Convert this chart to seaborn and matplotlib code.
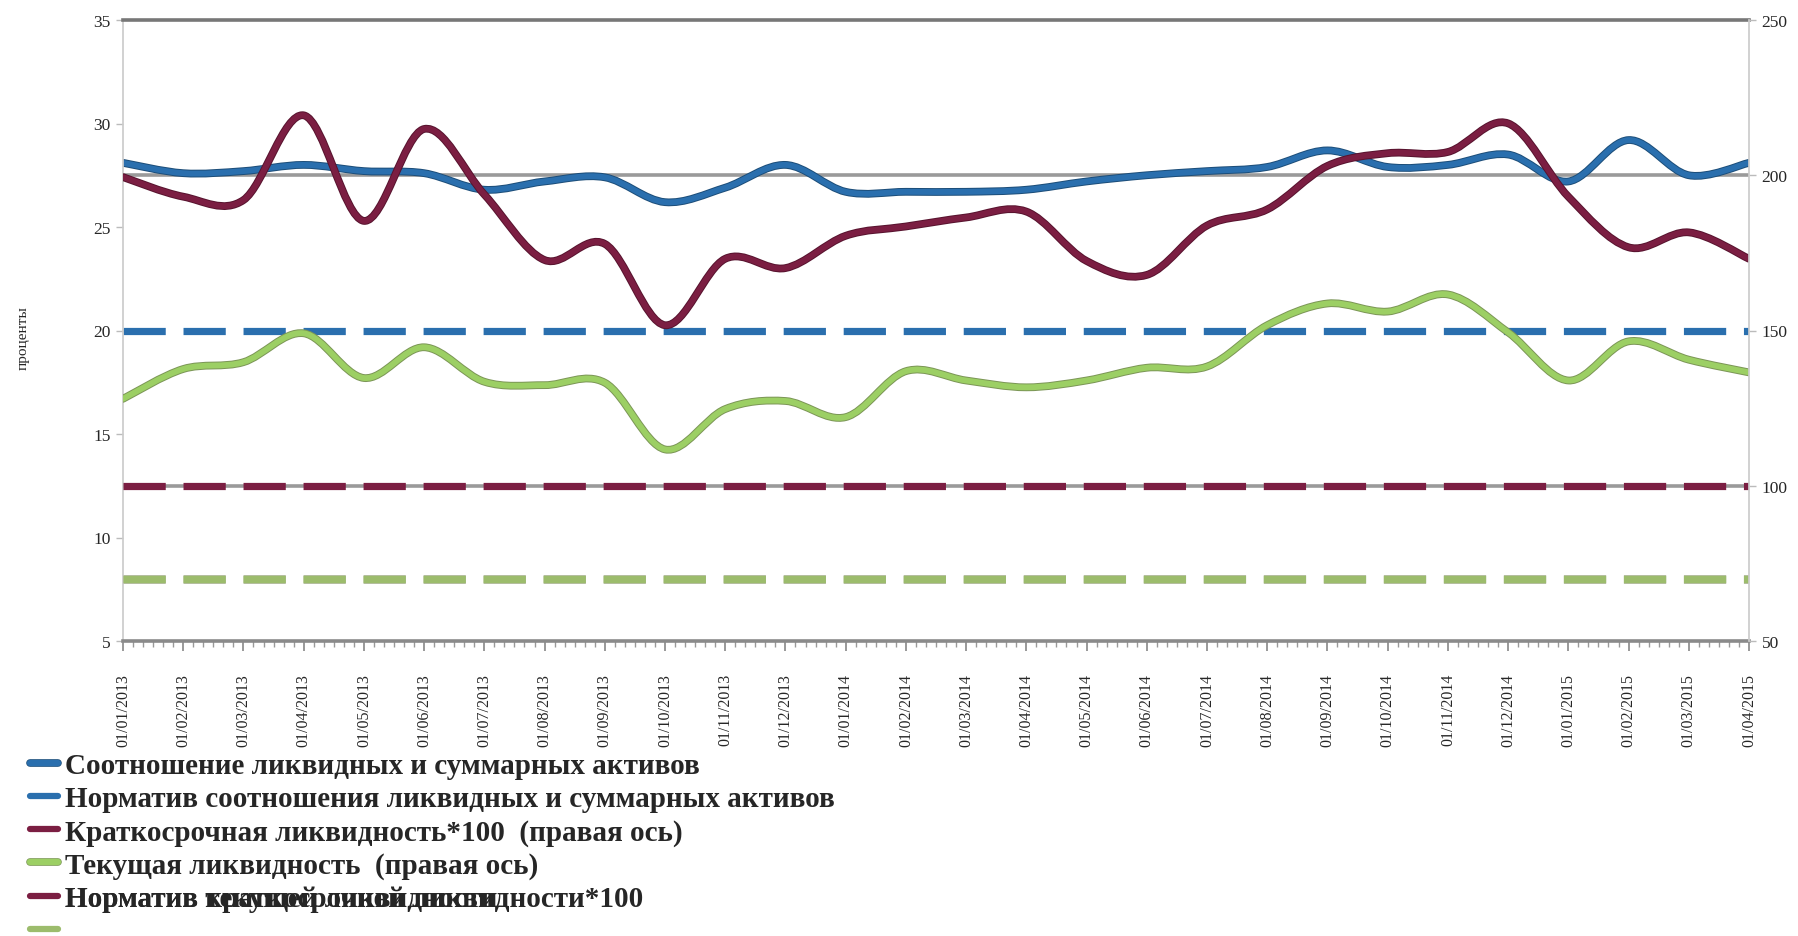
import numpy as np
import pandas as pd
import seaborn as sns
import matplotlib
matplotlib.use("Agg")
from matplotlib import pyplot as plt
from matplotlib.path import Path
from matplotlib.patches import PathPatch
from matplotlib.lines import Line2D
from matplotlib.ticker import MultipleLocator
import matplotlib.patheffects as pe

dates = ["01/01/2013", "01/02/2013", "01/03/2013", "01/04/2013", "01/05/2013", "01/06/2013",
         "01/07/2013", "01/08/2013", "01/09/2013", "01/10/2013", "01/11/2013", "01/12/2013",
         "01/01/2014", "01/02/2014", "01/03/2014", "01/04/2014", "01/05/2014", "01/06/2014",
         "01/07/2014", "01/08/2014", "01/09/2014", "01/10/2014", "01/11/2014", "01/12/2014",
         "01/01/2015", "01/02/2015", "01/03/2015", "01/04/2015"]

# left axis, percent
liquid_ratio = [28.1, 27.6, 27.7, 28.0, 27.7, 27.6, 26.8, 27.2, 27.4, 26.2, 26.9, 28.0,
                26.7, 26.7, 26.7, 26.8, 27.2, 27.5, 27.7, 27.9, 28.7, 27.9, 28.0, 28.5,
                27.2, 29.2, 27.5, 28.1]
# right axis
short_liq = [199.4, 193.1, 192.0, 219.3, 185.3, 214.9, 193.8, 172.7, 177.9, 151.7, 173.1, 170.1,
             180.5, 183.5, 186.4, 188.3, 172.4, 167.9, 183.8, 189.0, 203.0, 207.1, 207.5, 216.7,
             193.1, 176.8, 181.6, 173.1]
current_liq = [128.0, 137.6, 139.8, 149.1, 134.7, 144.6, 133.5, 132.4, 133.2, 111.7, 124.7, 127.3,
               122.1, 136.9, 133.9, 131.7, 133.9, 138.0, 138.4, 151.7, 158.7, 156.1, 161.6, 149.4,
               133.9, 146.5, 140.6, 136.5]

norm_liquid_ratio = 20      # left axis
norm_short_liq = 100        # right axis
norm_current_liq = 70       # right axis

left_ticks = [5, 10, 15, 20, 25, 30, 35]
right_ticks = [50, 100, 150, 200, 250]

labels = ["Соотношение ликвидных и суммарных активов",
          "Норматив соотношения ликвидных и суммарных активов",
          "Краткосрочная ликвидность*100  (правая ось)",
          "Текущая ликвидность  (правая ось)",
          "Норматив краткосрочной ликвидности*100",
          "Норматив текущей ликвидности"]

BLUE, BLUE_E = "#2a6fae", "#1c4d78"
MAROON, MAROON_E = "#7b1e42", "#57132e"
GREEN, GREEN_E = "#9ccf64", "#7b9556"
GREEN_D = "#9cbc6c"

sns.set_theme(style="white")
plt.rcParams['font.family'] = ['Liberation Serif', 'DejaVu Serif']


def smooth_path(x, y):
    # excel-like smoothed line drawn as bezier segments through the data points
    n = len(x)
    verts = [(x[0], y[0])]
    codes = [Path.MOVETO]
    for i in range(n - 1):
        a = max(i - 1, 0)
        b = min(i + 2, n - 1)
        c1 = (x[i] + (x[i + 1] - x[a]) / 6, y[i] + (y[i + 1] - y[a]) / 6)
        c2 = (x[i + 1] - (x[b] - x[i]) / 6, y[i + 1] - (y[b] - y[i]) / 6)
        verts += [c1, c2, (x[i + 1], y[i + 1])]
        codes += [Path.CURVE4] * 3
    return Path(verts, codes)


def add_smooth(ax, x, y, color, edge):
    patch = PathPatch(smooth_path(x, y), fill=False, edgecolor=color, lw=4.2,
                      capstyle='round', joinstyle='round',
                      path_effects=[pe.Stroke(linewidth=5.6, foreground=edge), pe.Normal()])
    ax.add_patch(patch)


idx = np.arange(len(dates))
df = pd.DataFrame({"idx": idx, "ratio": liquid_ratio, "short": short_liq, "cur": current_liq,
                   "n_ratio": norm_liquid_ratio, "n_short": norm_short_liq, "n_cur": norm_current_liq})

fig = plt.figure(figsize=(17.99, 9.37), dpi=100)
ax = fig.add_axes([123 / 1799, 1 - 642 / 937, (1749 - 123) / 1799, (642 - 21) / 937])
ax2 = ax.twinx()

ax.set_xlim(0, len(dates) - 1)
ax.set_ylim(left_ticks[0], left_ticks[-1])
ax2.set_ylim(right_ticks[0], right_ticks[-1])

# gridlines follow the right axis ticks, drawn on the left axis so every line sits above them
scale = (left_ticks[-1] - left_ticks[0]) / (right_ticks[-1] - right_ticks[0])
grid_left = [left_ticks[0] + (r - right_ticks[0]) * scale for r in right_ticks[1:]]
ax.set_yticks(left_ticks)
ax.set_yticks(grid_left, minor=True)
ax.grid(which='minor', axis='y', color='#9a9a9a', lw=2.6)
ax.grid(which='major', visible=False)
ax.tick_params(axis='y', which='minor', length=0)

# one dash + gap per category step
dash = dict(lw=5.2, dashes=(5.85, 2.46), dash_capstyle='butt', legend=False)
sns.lineplot(data=df, x="idx", y="n_ratio", ax=ax, color=BLUE, **dash)
sns.lineplot(data=df, x="idx", y="n_short", ax=ax2, color=MAROON, **dash)
sns.lineplot(data=df, x="idx", y="n_cur", ax=ax2, color=GREEN_D, **dash)
ax2.lines[-1].set_path_effects([pe.Stroke(linewidth=6.2, foreground='#a8b090'), pe.Normal()])

add_smooth(ax, idx, liquid_ratio, BLUE, BLUE_E)
add_smooth(ax2, idx, short_liq, MAROON, MAROON_E)
add_smooth(ax2, idx, current_liq, GREEN, GREEN_E)

ax.set_xticks(idx)
ax.set_xticklabels(dates, rotation=90, fontsize=11.5)
ax.xaxis.set_minor_locator(MultipleLocator(1 / 6))
ax.tick_params(axis='x', which='major', direction='out', length=7, width=1.2, color='#888888',
               pad=16, bottom=True)
ax.tick_params(axis='x', which='minor', direction='out', length=4, width=1, color='#999999', bottom=True)
ax.tick_params(axis='y', which='major', direction='out', length=5, width=1, color='#bbbbbb',
               labelsize=12.5, pad=4, left=True)
ax2.set_yticks(right_ticks)
ax2.tick_params(axis='y', direction='out', length=5, width=1, color='#bbbbbb', labelsize=12.5, pad=4, right=True)
ax2.grid(False)
ax.set_xlabel("")
ax2.set_ylabel("")
ax.set_ylabel("проценты", fontsize=11)
ax.yaxis.set_label_coords((30 - 123) / (1749 - 123), 0.49)

for a in (ax, ax2):
    for s in a.spines.values():
        s.set_visible(False)
ax.spines['bottom'].set_visible(True)
ax.spines['bottom'].set_color('#8a8a8a')
ax.spines['bottom'].set_linewidth(2.6)
ax.spines['top'].set_visible(True)
ax.spines['top'].set_color('#777777')
ax.spines['top'].set_linewidth(2.6)
ax.spines['left'].set_visible(True)
ax.spines['left'].set_color('#cccccc')
ax2.spines['right'].set_visible(True)
ax2.spines['right'].set_color('#cccccc')

handles = [Line2D([], [], color=BLUE, lw=4.5, path_effects=[pe.Stroke(linewidth=5.5, foreground=BLUE_E), pe.Normal()]),
           Line2D([], [], color=BLUE, lw=4.5),
           Line2D([], [], color=MAROON, lw=4.5),
           Line2D([], [], color=GREEN, lw=4.5, path_effects=[pe.Stroke(linewidth=5.5, foreground=GREEN_E), pe.Normal()]),
           Line2D([], [], color=MAROON, lw=4.5),
           Line2D([], [], color=GREEN_D, lw=4.5)]
leg = fig.legend(handles, labels[:5] + ["\u00a0"], loc='upper left', bbox_to_anchor=(30 / 1799, 1 - 753 / 937),
                 frameon=False, prop={'family': ['Liberation Serif', 'DejaVu Serif'], 'size': 21, 'weight': 'bold'},
                 handlelength=0.95, handletextpad=0.25, labelspacing=0.21, borderpad=0, borderaxespad=0)

# the last label is printed over the fifth one, as in the original picture
fig.canvas.draw()
t5 = leg.get_texts()[4]
fig.text(*t5.get_position(), labels[5], transform=t5.get_transform(),
         fontproperties=t5.get_fontproperties(), va=t5.get_verticalalignment(),
         ha=t5.get_horizontalalignment(), color=t5.get_color())

fig.savefig("out.png", dpi=100)
